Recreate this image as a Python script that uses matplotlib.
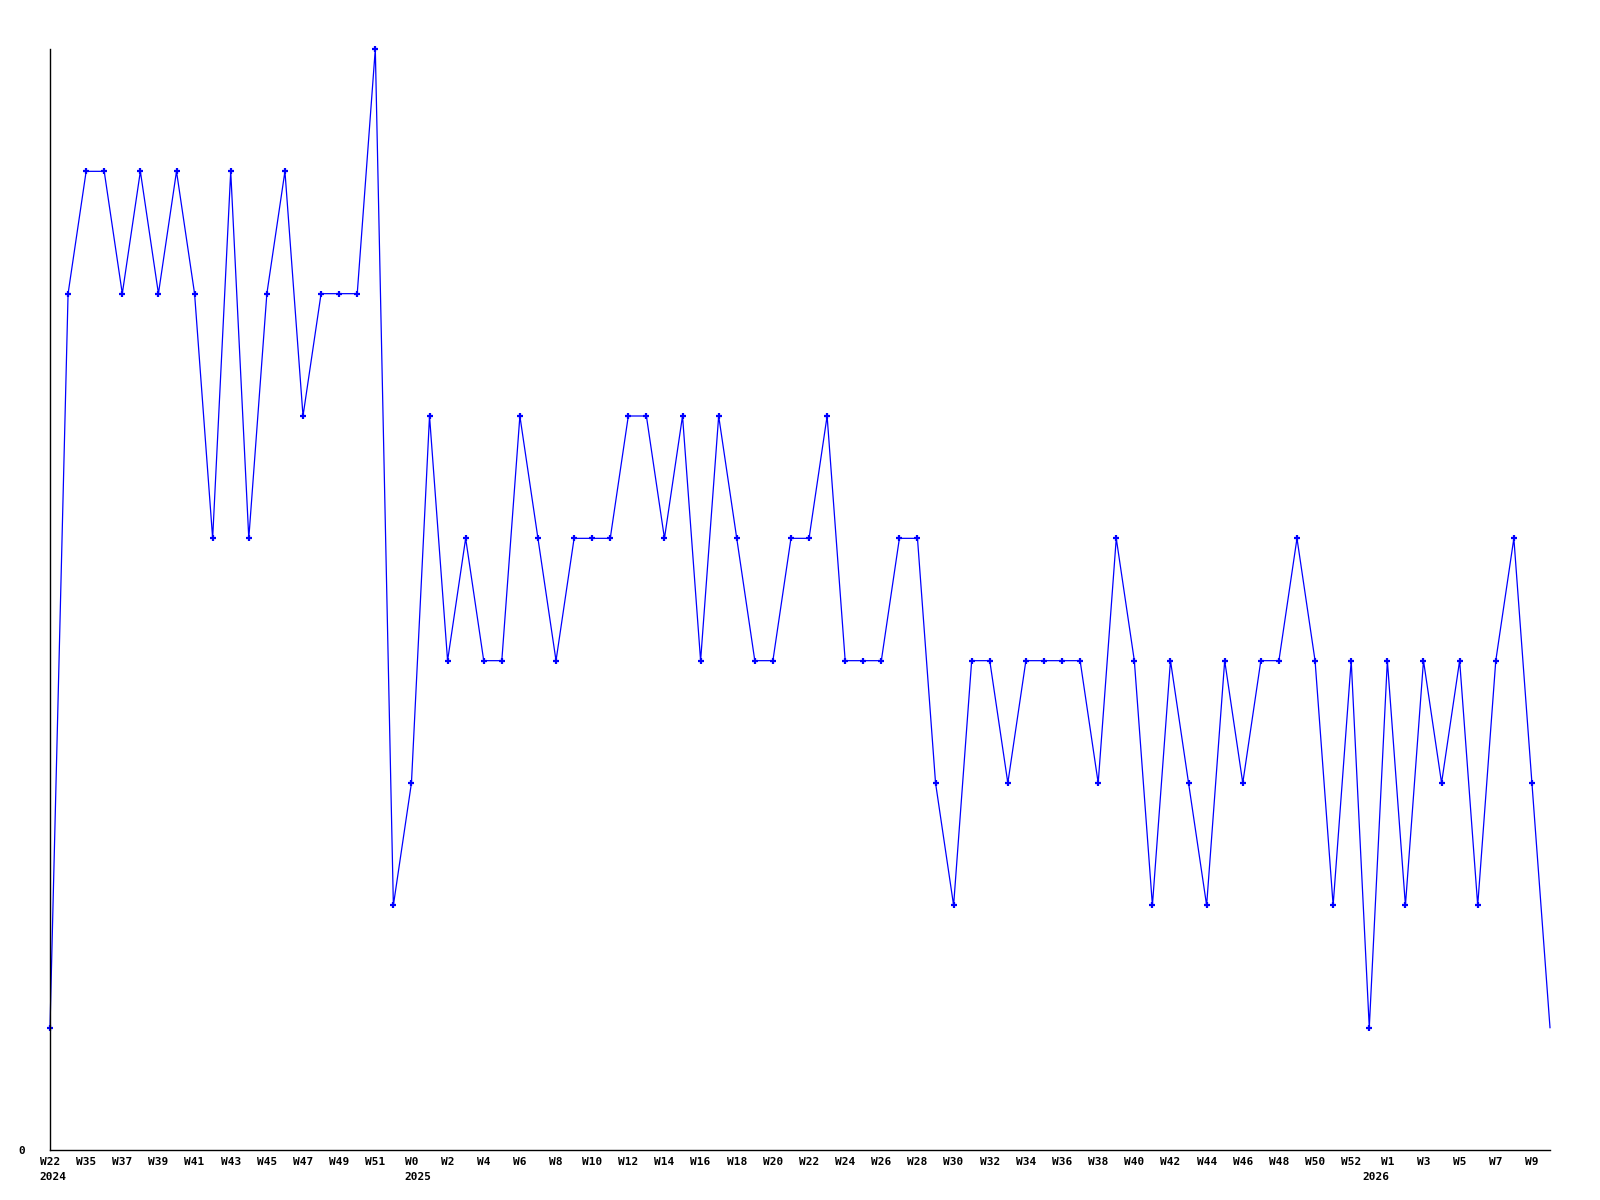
import matplotlib
matplotlib.use("Agg")
import matplotlib.pyplot as plt
import matplotlib.transforms as mtransforms

# weekly counts
weeks = (["W22"] + [f"W{w}" for w in range(34, 53)]
         + [f"W{w}" for w in range(0, 53)]
         + [f"W{w}" for w in range(0, 11)])
counts = [1, 7, 8, 8, 7, 8, 7, 8, 7, 5, 8, 5, 7, 8, 6, 7, 7, 7, 9, 2,
          3, 6, 4, 5, 4, 4, 6, 5, 4, 5, 5, 5, 6, 6, 5, 6, 4, 6, 5, 4,
          4, 5, 5, 6, 4, 4, 4, 5, 5, 3, 2, 4, 4, 3, 4, 4, 4, 4, 3, 5,
          4, 2, 4, 3, 2, 4, 3, 4, 4, 5, 4, 2, 4, 1, 4, 2, 4, 3, 4, 2,
          4, 5, 3, 1]
year_starts = {0: "2024", 20: "2025", 73: "2026"}

x = list(range(len(counts)))

fig = plt.figure(figsize=(16, 12), dpi=100)
ax = fig.add_axes([50 / 1600, 1 - 1150 / 1200, 1500 / 1600, 1101 / 1200])

ax.plot(x, counts, color="#0000ff", lw=0.9, marker="+", markersize=5,
        markeredgewidth=1.6, markevery=list(range(len(counts) - 1)),
        clip_on=False)

ax.set_xlim(0, len(counts) - 1)
ax.set_ylim(0, 9)

for side in ["top", "right"]:
    ax.spines[side].set_visible(False)
for side in ["left", "bottom"]:
    ax.spines[side].set_linewidth(1.0)
    ax.spines[side].set_color("black")

font = dict(family="DejaVu Sans Mono", weight="bold", size=8)

ax.set_xticks(x[::2])
ax.set_xticklabels(weeks[::2], fontdict=font)
ax.set_yticks([0])
ax.set_yticklabels(["0"], fontdict=font)
ax.tick_params(axis="x", length=0, pad=5)
ax.tick_params(axis="y", length=0, pad=18)

# year labels under the first week of each year
for i, year in year_starts.items():
    shift = -len(weeks[i]) * 3.4 / 100
    tr = ax.get_xaxis_transform() + mtransforms.ScaledTranslation(
        shift, 0, fig.dpi_scale_trans)
    ax.text(i, -0.02, year, transform=tr, ha="left", va="top",
            fontdict=font)

fig.savefig("out.png", dpi=100)
